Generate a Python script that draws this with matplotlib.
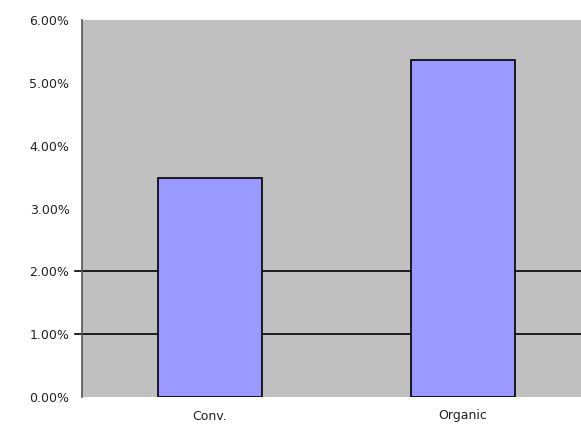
import matplotlib
matplotlib.use("Agg")
import matplotlib.pyplot as plt
from matplotlib.ticker import FuncFormatter

categories = ["Conv.", "Organic"]
values = [3.48, 5.37]
yticks = [0, 1, 2, 3, 4, 5, 6]
gridlines = [1, 2]

plt.rcParams['font.family'] = ['DejaVu Sans']

fig = plt.figure(figsize=(5.81, 4.28), dpi=100)
ax = fig.add_axes([82/581, 31/428, 504/581, 377/428])
ax.set_facecolor('#C0C0C0')

x = list(range(len(categories)))
ax.bar(x, values, width=0.412, color='#9999FF', edgecolor='black', linewidth=1.2, zorder=3)
for g in gridlines:
    ax.axhline(g, xmin=-0.014, xmax=1, color='black', linewidth=1.2, zorder=2, clip_on=False)

ax.set_xlim(-0.507, 1.489)
ax.set_ylim(0, 6)
ax.set_yticks(yticks)
ax.yaxis.set_major_formatter(FuncFormatter(lambda v, p: f"{v:.2f}%"))
ax.set_xticks(x)
ax.set_xticklabels(categories)
ax.tick_params(axis='both', length=0, labelsize=9, colors='#222222')
ax.tick_params(axis='y', pad=9)
ax.tick_params(axis='x', pad=9)
for s in ['top', 'right', 'bottom']:
    ax.spines[s].set_visible(False)
ax.spines['left'].set_color('#555555')
ax.spines['left'].set_linewidth(1.2)

fig.savefig('out.png', dpi=100)
